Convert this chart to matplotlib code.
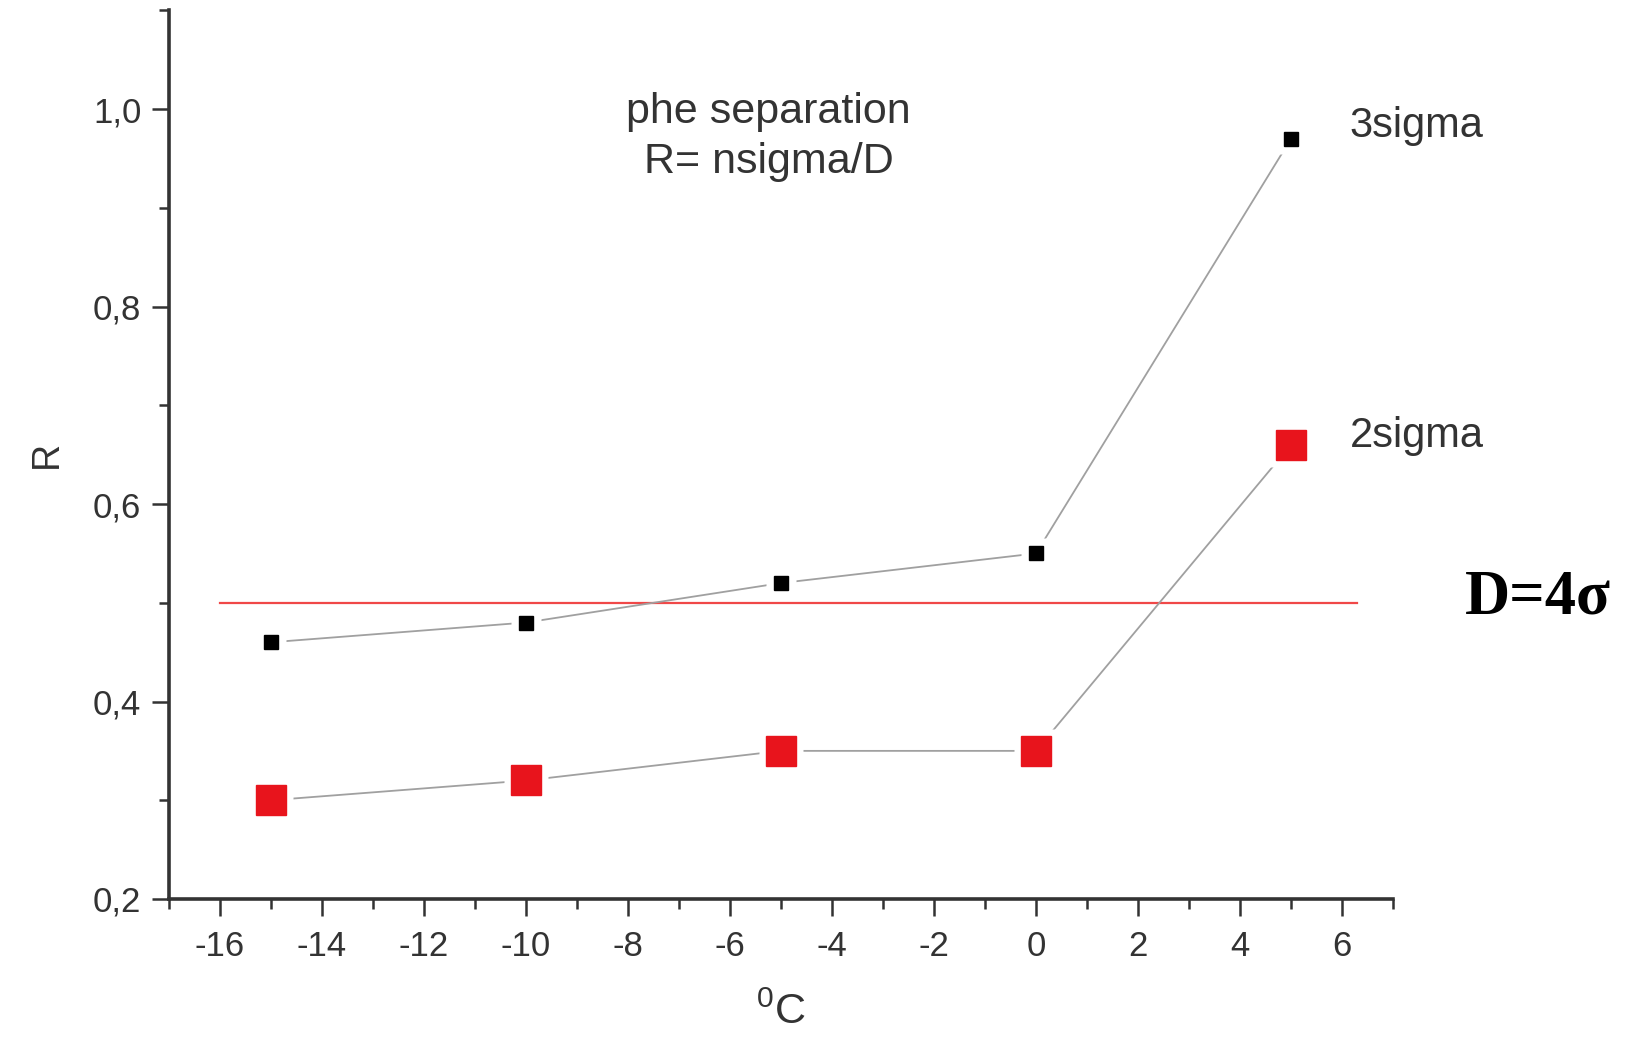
import numpy as np
import matplotlib
matplotlib.use('Agg')
import matplotlib.pyplot as plt
from matplotlib.ticker import MultipleLocator, FuncFormatter

# Temperatura (°C) y razon R = nsigma/D
temps = [-15, -10, -5, 0, 5]
r_3sigma = [0.46, 0.48, 0.52, 0.55, 0.97]
r_2sigma = [0.30, 0.32, 0.35, 0.35, 0.66]
d_level = 0.5
d_range = [-16, 6.3]

plt.rcParams['font.family'] = ['Liberation Sans', 'DejaVu Sans']
plt.rcParams['mathtext.default'] = 'regular'
plt.rcParams['axes.unicode_minus'] = False

fig = plt.figure(figsize=(16.3, 10.37), dpi=100)
ax = fig.add_axes([0.1037, 0.1331, 0.7509, 0.8569])

# lineas grises con hueco alrededor de cada marcador (estilo Origin)
for ys, ms in [(r_3sigma, 11), (r_2sigma, 22)]:
    ax.plot(temps, ys, color='#a0a0a0', lw=1.3, zorder=1)
    ax.plot(temps, ys, ls='none', marker='s', ms=ms + 10, mfc='white', mec='none', zorder=2)

ax.plot(temps, r_3sigma, ls='none', marker='s', ms=10.5, color='black', zorder=3)
ax.plot(temps, r_2sigma, ls='none', marker='s', ms=22, color='#e8141c', zorder=3)

# nivel D = 4 sigma
ax.plot(d_range, [d_level, d_level], color='#f04848', lw=1.6, zorder=0)

ax.set_xlim(-17, 7)
ax.set_ylim(0.2, 1.1)
ax.xaxis.set_major_locator(MultipleLocator(2))
ax.xaxis.set_minor_locator(MultipleLocator(1))
ax.yaxis.set_major_locator(MultipleLocator(0.2))
ax.yaxis.set_minor_locator(MultipleLocator(0.1))
ax.set_xticks(np.arange(-16, 7, 2))
ax.yaxis.set_major_formatter(FuncFormatter(lambda v, p: f'{v:.1f}'.replace('.', ',')))

for s in ['top', 'right']:
    ax.spines[s].set_visible(False)
for s in ['left', 'bottom']:
    ax.spines[s].set_linewidth(2.6)
    ax.spines[s].set_color('#333333')

ax.tick_params(which='major', direction='out', length=12, width=1.8, color='#333333',
               labelsize=25, labelcolor='#333333')
ax.tick_params(which='minor', direction='out', length=7, width=1.8, color='#333333')
ax.tick_params(axis='x', which='major', pad=10)
ax.tick_params(axis='y', which='major', pad=8)

ax.set_ylabel('R', fontsize=27, color='#333333', labelpad=20)
ax.set_xlabel('$^{0}$C', fontsize=31, color='#333333', labelpad=22)

ax.text(-5.24, 0.972, 'phe separation\nR= nsigma/D', ha='center', va='center',
        fontsize=31, color='#333333', linespacing=1.32)
ax.text(6.15, 0.983, '3sigma', ha='left', va='center', fontsize=30, color='#333333', clip_on=False)
ax.text(6.15, 0.669, '2sigma', ha='left', va='center', fontsize=30, color='#333333', clip_on=False)

fig.text(1538 / 1630, 1 - 598 / 1037, 'D=4σ', ha='center', va='center',
         fontsize=45, fontweight='bold', family=['Liberation Serif', 'DejaVu Serif'])

fig.savefig('out.png', dpi=100, facecolor='white')
